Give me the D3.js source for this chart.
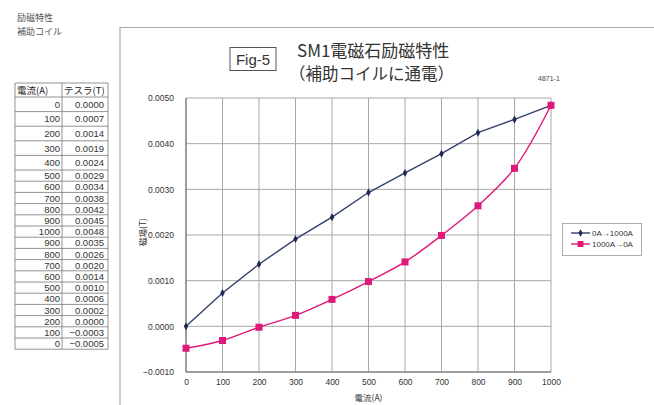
<!DOCTYPE html>
<html>
<head>
<meta charset="utf-8">
<script src="https://cdn.jsdelivr.net/npm/d3@7"></script>
<style>
  body { margin: 0; background: #fff; }
  text { font-family: "Liberation Sans", Arial, sans-serif; }
  .jp { font-family: "Noto Sans CJK JP", sans-serif; }
</style>
</head>
<body>
<div id="chart"></div>
<script>
// chart data
const currents = [0, 100, 200, 300, 400, 500, 600, 700, 800, 900, 1000];
const upValues = [0.0000, 0.00073, 0.00136, 0.00191, 0.00239, 0.00293, 0.00336, 0.00378, 0.00424, 0.00453, 0.00484];
const downCurrents = [1000, 900, 800, 700, 600, 500, 400, 300, 200, 100, 0];
const downValues = [0.00484, 0.00346, 0.00264, 0.00199, 0.00141, 0.00098, 0.00059, 0.00024, -0.00002, -0.00031, -0.00048];
const seriesNames = ['0A→1000A', '1000A→0A'];
const yTicks = [-0.001, 0, 0.001, 0.002, 0.003, 0.004, 0.005];
const xTicks = [0, 100, 200, 300, 400, 500, 600, 700, 800, 900, 1000];

// table on the left
const tableCurrent = ['0','100','200','300','400','500','600','700','800','900','1000','900','800','700','600','500','400','300','200','100','0'];
const tableTesla = ['0.0000','0.0007','0.0014','0.0019','0.0024','0.0029','0.0034','0.0038','0.0042','0.0045','0.0048','0.0035','0.0026','0.0020','0.0014','0.0010','0.0006','0.0002','0.0000','\u22120.0003','\u22120.0005'];

const svg = d3.select('#chart').append('svg').attr('width', 654).attr('height', 405);

// heading top-left
svg.append('text').attr('class', 'jp').attr('x', 17).attr('y', 21).attr('font-size', 9).attr('fill', '#555').text('励磁特性');
svg.append('text').attr('class', 'jp').attr('x', 17).attr('y', 35).attr('font-size', 9).attr('fill', '#555').text('補助コイル');

// table
const tX0 = 15, tX1 = 62, tX2 = 108;
let rowsY = [83, 97];
for (let i = 0; i < tableCurrent.length; i++) {
  let h = i < 5 ? 14.6 : 11.2;
  rowsY.push(rowsY[rowsY.length - 1] + h);
}
const tbl = svg.append('g').attr('stroke', '#777').attr('stroke-width', 0.8);
rowsY.forEach(function(yy) {
  tbl.append('line').attr('x1', tX0).attr('x2', tX2).attr('y1', yy).attr('y2', yy);
});
[tX0, tX1, tX2].forEach(function(xx) {
  tbl.append('line').attr('x1', xx).attr('x2', xx).attr('y1', rowsY[0]).attr('y2', rowsY[rowsY.length - 1]);
});
svg.append('text').attr('class', 'jp').attr('x', tX0 + 2).attr('y', 93.5).attr('font-size', 9.5).attr('fill', '#222').text('電流(A)');
svg.append('text').attr('class', 'jp').attr('x', tX1 + 2).attr('y', 93.5).attr('font-size', 9.5).attr('fill', '#222').text('テスラ(T)');
tableCurrent.forEach(function(c, i) {
  let cy = (rowsY[i + 1] + rowsY[i + 2]) / 2;
  svg.append('text').attr('x', tX1 - 2).attr('y', cy + 3.5).attr('text-anchor', 'end').attr('font-size', 9.5).attr('fill', '#333').text(c);
  svg.append('text').attr('x', tX2 - 4).attr('y', cy + 3.5).attr('text-anchor', 'end').attr('font-size', 9.5).attr('fill', '#333').text(tableTesla[i]);
});

// outer frame of the chart sheet
svg.append('path').attr('d', 'M120,405 L120,27.5 L654,27.5').attr('fill', 'none').attr('stroke', '#aaa').attr('stroke-width', 1.2);

// Fig box + title
svg.append('rect').attr('x', 230).attr('y', 47.5).attr('width', 46).attr('height', 23).attr('fill', 'none').attr('stroke', '#555').attr('stroke-width', 1);
svg.append('text').attr('x', 253).attr('y', 65).attr('text-anchor', 'middle').attr('font-size', 15).attr('fill', '#333').text('Fig-5');
svg.append('text').attr('class', 'jp').attr('x', 297).attr('y', 57).attr('font-size', 17).attr('fill', '#333').text('SM1電磁石励磁特性');
svg.append('text').attr('class', 'jp').attr('x', 289).attr('y', 80).attr('font-size', 16.5).attr('fill', '#333').text('（補助コイルに通電）');
svg.append('text').attr('x', 538).attr('y', 81).attr('font-size', 7).attr('fill', '#444').text('4871-1');

// plot area
const pLeft = 186, pRight = 551, pTop = 98, pBottom = 372;
const x = d3.scaleLinear().domain([0, 1000]).range([pLeft, pRight]);
const y = d3.scaleLinear().domain([-0.001, 0.005]).range([pBottom, pTop]);

const grid = svg.append('g').attr('stroke', '#a8a8a8').attr('stroke-width', 1);
yTicks.forEach(function(t) {
  grid.append('line').attr('x1', pLeft).attr('x2', pRight).attr('y1', y(t)).attr('y2', y(t));
});
xTicks.forEach(function(t) {
  grid.append('line').attr('x1', x(t)).attr('x2', x(t)).attr('y1', pTop).attr('y2', pBottom);
});
svg.append('path').attr('d', `M${pLeft},${pTop} L${pLeft},${pBottom} L${pRight},${pBottom}`).attr('fill', 'none').attr('stroke', '#666').attr('stroke-width', 1);

// axes labels via d3 axes (lines hidden)
const yAxis = svg.append('g').attr('transform', `translate(${pLeft},0)`)
  .call(d3.axisLeft(y).tickValues(yTicks).tickSize(0).tickPadding(12).tickFormat(function(d) {
    return d < 0 ? '\u2212' + d3.format('.4f')(-d) : d3.format('.4f')(d);
  }));
yAxis.select('.domain').remove();
yAxis.selectAll('text').attr('font-size', 8.5).attr('fill', '#333').style('font-family', '"Liberation Sans", Arial, sans-serif');

const xAxis = svg.append('g').attr('transform', `translate(0,${pBottom})`)
  .call(d3.axisBottom(x).tickValues(xTicks).tickSize(0).tickPadding(7).tickFormat(d3.format('d')));
xAxis.select('.domain').remove();
xAxis.selectAll('text').attr('font-size', 8.5).attr('fill', '#333').style('font-family', '"Liberation Sans", Arial, sans-serif');

svg.append('text').attr('class', 'jp').attr('transform', 'translate(146,232) rotate(-90)').attr('text-anchor', 'middle').attr('font-size', 8.5).attr('fill', '#333').text('磁場(T)');
svg.append('text').attr('class', 'jp').attr('x', (pLeft + pRight) / 2).attr('y', 401).attr('text-anchor', 'middle').attr('font-size', 8.5).attr('fill', '#333').text('電流(A)');

// series
const upData = currents.map(function(c, i) { return [c, upValues[i]]; });
const downData = downCurrents.map(function(c, i) { return [c, downValues[i]]; });
const blue = '#34406a', pink = '#e0187a';

svg.append('path').datum(upData)
  .attr('d', d3.line().x(function(d) { return x(d[0]); }).y(function(d) { return y(d[1]); }))
  .attr('fill', 'none').attr('stroke', blue).attr('stroke-width', 1.4);
svg.append('path').datum(downData)
  .attr('d', d3.line().curve(d3.curveCatmullRom).x(function(d) { return x(d[0]); }).y(function(d) { return y(d[1]); }))
  .attr('fill', 'none').attr('stroke', pink).attr('stroke-width', 1.4);

svg.append('g').selectAll('path').data(upData).enter().append('path')
  .attr('d', d3.symbol().type(d3.symbolDiamond).size(18))
  .attr('transform', function(d) { return `translate(${x(d[0])},${y(d[1])})`; })
  .attr('fill', '#1f2a55');
svg.append('g').selectAll('rect').data(downData).enter().append('rect')
  .attr('x', function(d) { return x(d[0]) - 3.5; })
  .attr('y', function(d) { return y(d[1]) - 3.5; })
  .attr('width', 7).attr('height', 7)
  .attr('fill', pink);

// legend
const lg = svg.append('g');
lg.append('rect').attr('x', 562.5).attr('y', 223.5).attr('width', 79).attr('height', 32).attr('fill', '#fff').attr('stroke', '#999').attr('stroke-width', 0.8);
[blue, pink].forEach(function(col, i) {
  let ly = 233 + i * 11;
  lg.append('line').attr('x1', 571).attr('x2', 590).attr('y1', ly).attr('y2', ly).attr('stroke', col).attr('stroke-width', 1.4);
  if (i === 0) {
    lg.append('path').attr('d', d3.symbol().type(d3.symbolDiamond).size(16)).attr('transform', `translate(580.5,${ly})`).attr('fill', '#1f2a55');
  } else {
    lg.append('rect').attr('x', 577.5).attr('y', ly - 3).attr('width', 6).attr('height', 6).attr('fill', pink);
  }
  lg.append('text').attr('x', 592).attr('y', ly + 3).attr('font-size', 8).attr('fill', '#333').text(seriesNames[i]);
});
</script>
</body>
</html>
